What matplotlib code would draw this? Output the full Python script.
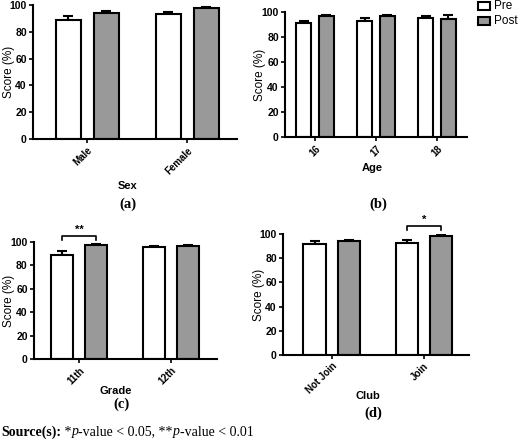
import numpy as np
import matplotlib
matplotlib.use('Agg')
import matplotlib.pyplot as plt
from matplotlib.patches import Rectangle

plt.rcParams['font.family'] = 'Liberation Sans'
plt.rcParams['font.weight'] = 'bold'

W, H = 520, 446

# panel data: categories, pre/post means, upper error
sex_cats = ['Male', 'Female']
sex_pre = [89.0, 93.0]
sex_pre_err = [2.5, 2.0]
sex_post = [94.0, 97.5]
sex_post_err = [1.5, 1.0]

age_cats = ['16', '17', '18']
age_pre = [91.0, 92.5, 95.0]
age_pre_err = [2.0, 3.0, 2.0]
age_post = [97.0, 97.0, 94.5]
age_post_err = [1.0, 1.0, 3.5]

grade_cats = ['11th', '12th']
grade_pre = [89.0, 95.3]
grade_pre_err = [3.0, 1.0]
grade_post = [97.2, 96.6]
grade_post_err = [0.8, 1.0]

club_cats = ['Not Join', 'Join']
club_pre = [92.0, 92.3]
club_pre_err = [2.5, 2.5]
club_post = [94.2, 98.3]
club_post_err = [1.0, 0.8]

post_color = '#999999'


def px_axes(fig, left, right, top, bottom):
    return fig.add_axes([left / W, 1 - bottom / H, (right - left) / W, (bottom - top) / H])


def draw_panel(ax, cats, pre, pre_err, post, post_err, xlim, ylab_px, off=0.19, width=0.25):
    x = np.arange(len(cats))
    ax.bar(x - off, pre, width, color='white', edgecolor='black', linewidth=1.5, zorder=2)
    ax.bar(x + off, post, width, color=post_color, edgecolor='black', linewidth=1.5, zorder=2)
    for xs, v, e in [(x - off, pre, pre_err), (x + off, post, post_err)]:
        ax.errorbar(xs, v, yerr=[np.zeros(len(v)), e], fmt='none', ecolor='black',
                    elinewidth=1.5, capsize=3.5, capthick=1.5, zorder=1)
    ax.set_xlim(*xlim)
    ax.set_ylim(0, 100)
    ax.set_yticks([0, 20, 40, 60, 80, 100])
    ax.set_xticks(x)
    ax.set_xticklabels(cats, rotation=45, ha='right', rotation_mode='anchor')
    for s in ['top', 'right']:
        ax.spines[s].set_visible(False)
    for s in ['left', 'bottom']:
        ax.spines[s].set_linewidth(1.5)
    ax.tick_params(width=1.2, length=3, labelsize=7.5, pad=1.5)
    ax.tick_params(axis='x', labelsize=7)
    ax.set_ylabel('Score (%)', fontsize=8.5)
    # y label: its right edge sits at a pixel column
    bb = ax.get_position()
    ax.yaxis.set_label_coords((ylab_px / W - bb.x0) / bb.width, 0.5)
    return x


def bracket(ax, x0, x1, y_low, y_high, text):
    ax.plot([x0, x0, x1, x1], [y_low, y_high, y_high, y_low], color='black', lw=1.2, clip_on=False)
    ax.text((x0 + x1) / 2, y_high + 1, text, ha='center', va='bottom', fontsize=8)


fig = plt.figure(figsize=(W / 100, H / 100), dpi=100)

ax_a = px_axes(fig, 33, 237, 5, 139)
draw_panel(ax_a, sex_cats, sex_pre, sex_pre_err, sex_post, sex_post_err, (-0.54, 1.5), 15)

ax_b = px_axes(fig, 285, 467, 12, 137)
draw_panel(ax_b, age_cats, age_pre, age_pre_err, age_post, age_post_err, (-0.49, 2.49), 266,
           off=0.185)

ax_c = px_axes(fig, 34, 217, 242, 359)
draw_panel(ax_c, grade_cats, grade_pre, grade_pre_err, grade_post, grade_post_err, (-0.49, 1.5), 15,
           off=0.186, width=0.24)
bracket(ax_c, -0.186, 0.186, 101.5, 105, '**')

ax_d = px_axes(fig, 283, 469, 234, 355)
draw_panel(ax_d, club_cats, club_pre, club_pre_err, club_post, club_post_err, (-0.53, 1.49), 265,
           off=0.185, width=0.245)
bracket(ax_d, 1 - 0.185, 1 + 0.185, 103.5, 106.5, '*')

# x axis titles and panel letters
for txt, xp, yp in [('Sex', 128, 186), ('Age', 372, 168), ('Grade', 116, 391), ('Club', 368, 396)]:
    fig.text(xp / W, 1 - yp / H, txt, ha='center', va='center', fontsize=8)
for txt, xp, yp in [('(a)', 128, 204), ('(b)', 378, 204), ('(c)', 121, 404), ('(d)', 373, 413)]:
    fig.text(xp / W, 1 - yp / H, txt, ha='center', va='center', fontsize=10.5,
             family='Liberation Serif', weight='bold')

# legend drawn by hand in the top right corner
for i, (lab, col) in enumerate([('Pre', 'white'), ('Post', post_color)]):
    yp = 6 + 15 * i
    fig.patches.append(Rectangle((478 / W, 1 - (yp + 4) / H), 12 / W, 8 / H, facecolor=col,
                                 edgecolor='black', linewidth=1.5, transform=fig.transFigure))
    fig.text(494 / W, 1 - yp / H, lab, ha='left', va='center', fontsize=8.5, weight='normal')

# source note, built piece by piece
renderer = fig.canvas.get_renderer()
pieces = [('Source(s):', 'bold', 'normal'), (' *', 'normal', 'normal'), ('p', 'normal', 'italic'),
          ('-value < 0.05, **', 'normal', 'normal'), ('p', 'normal', 'italic'),
          ('-value < 0.01', 'normal', 'normal')]
xcur = 1
for s, w, st in pieces:
    t = fig.text(xcur / W, 1 - 432 / H, s, ha='left', va='center', fontsize=10,
                 family='Liberation Serif', weight=w, style=st)
    xcur = t.get_window_extent(renderer).x1

fig.savefig('out.png', dpi=100)
